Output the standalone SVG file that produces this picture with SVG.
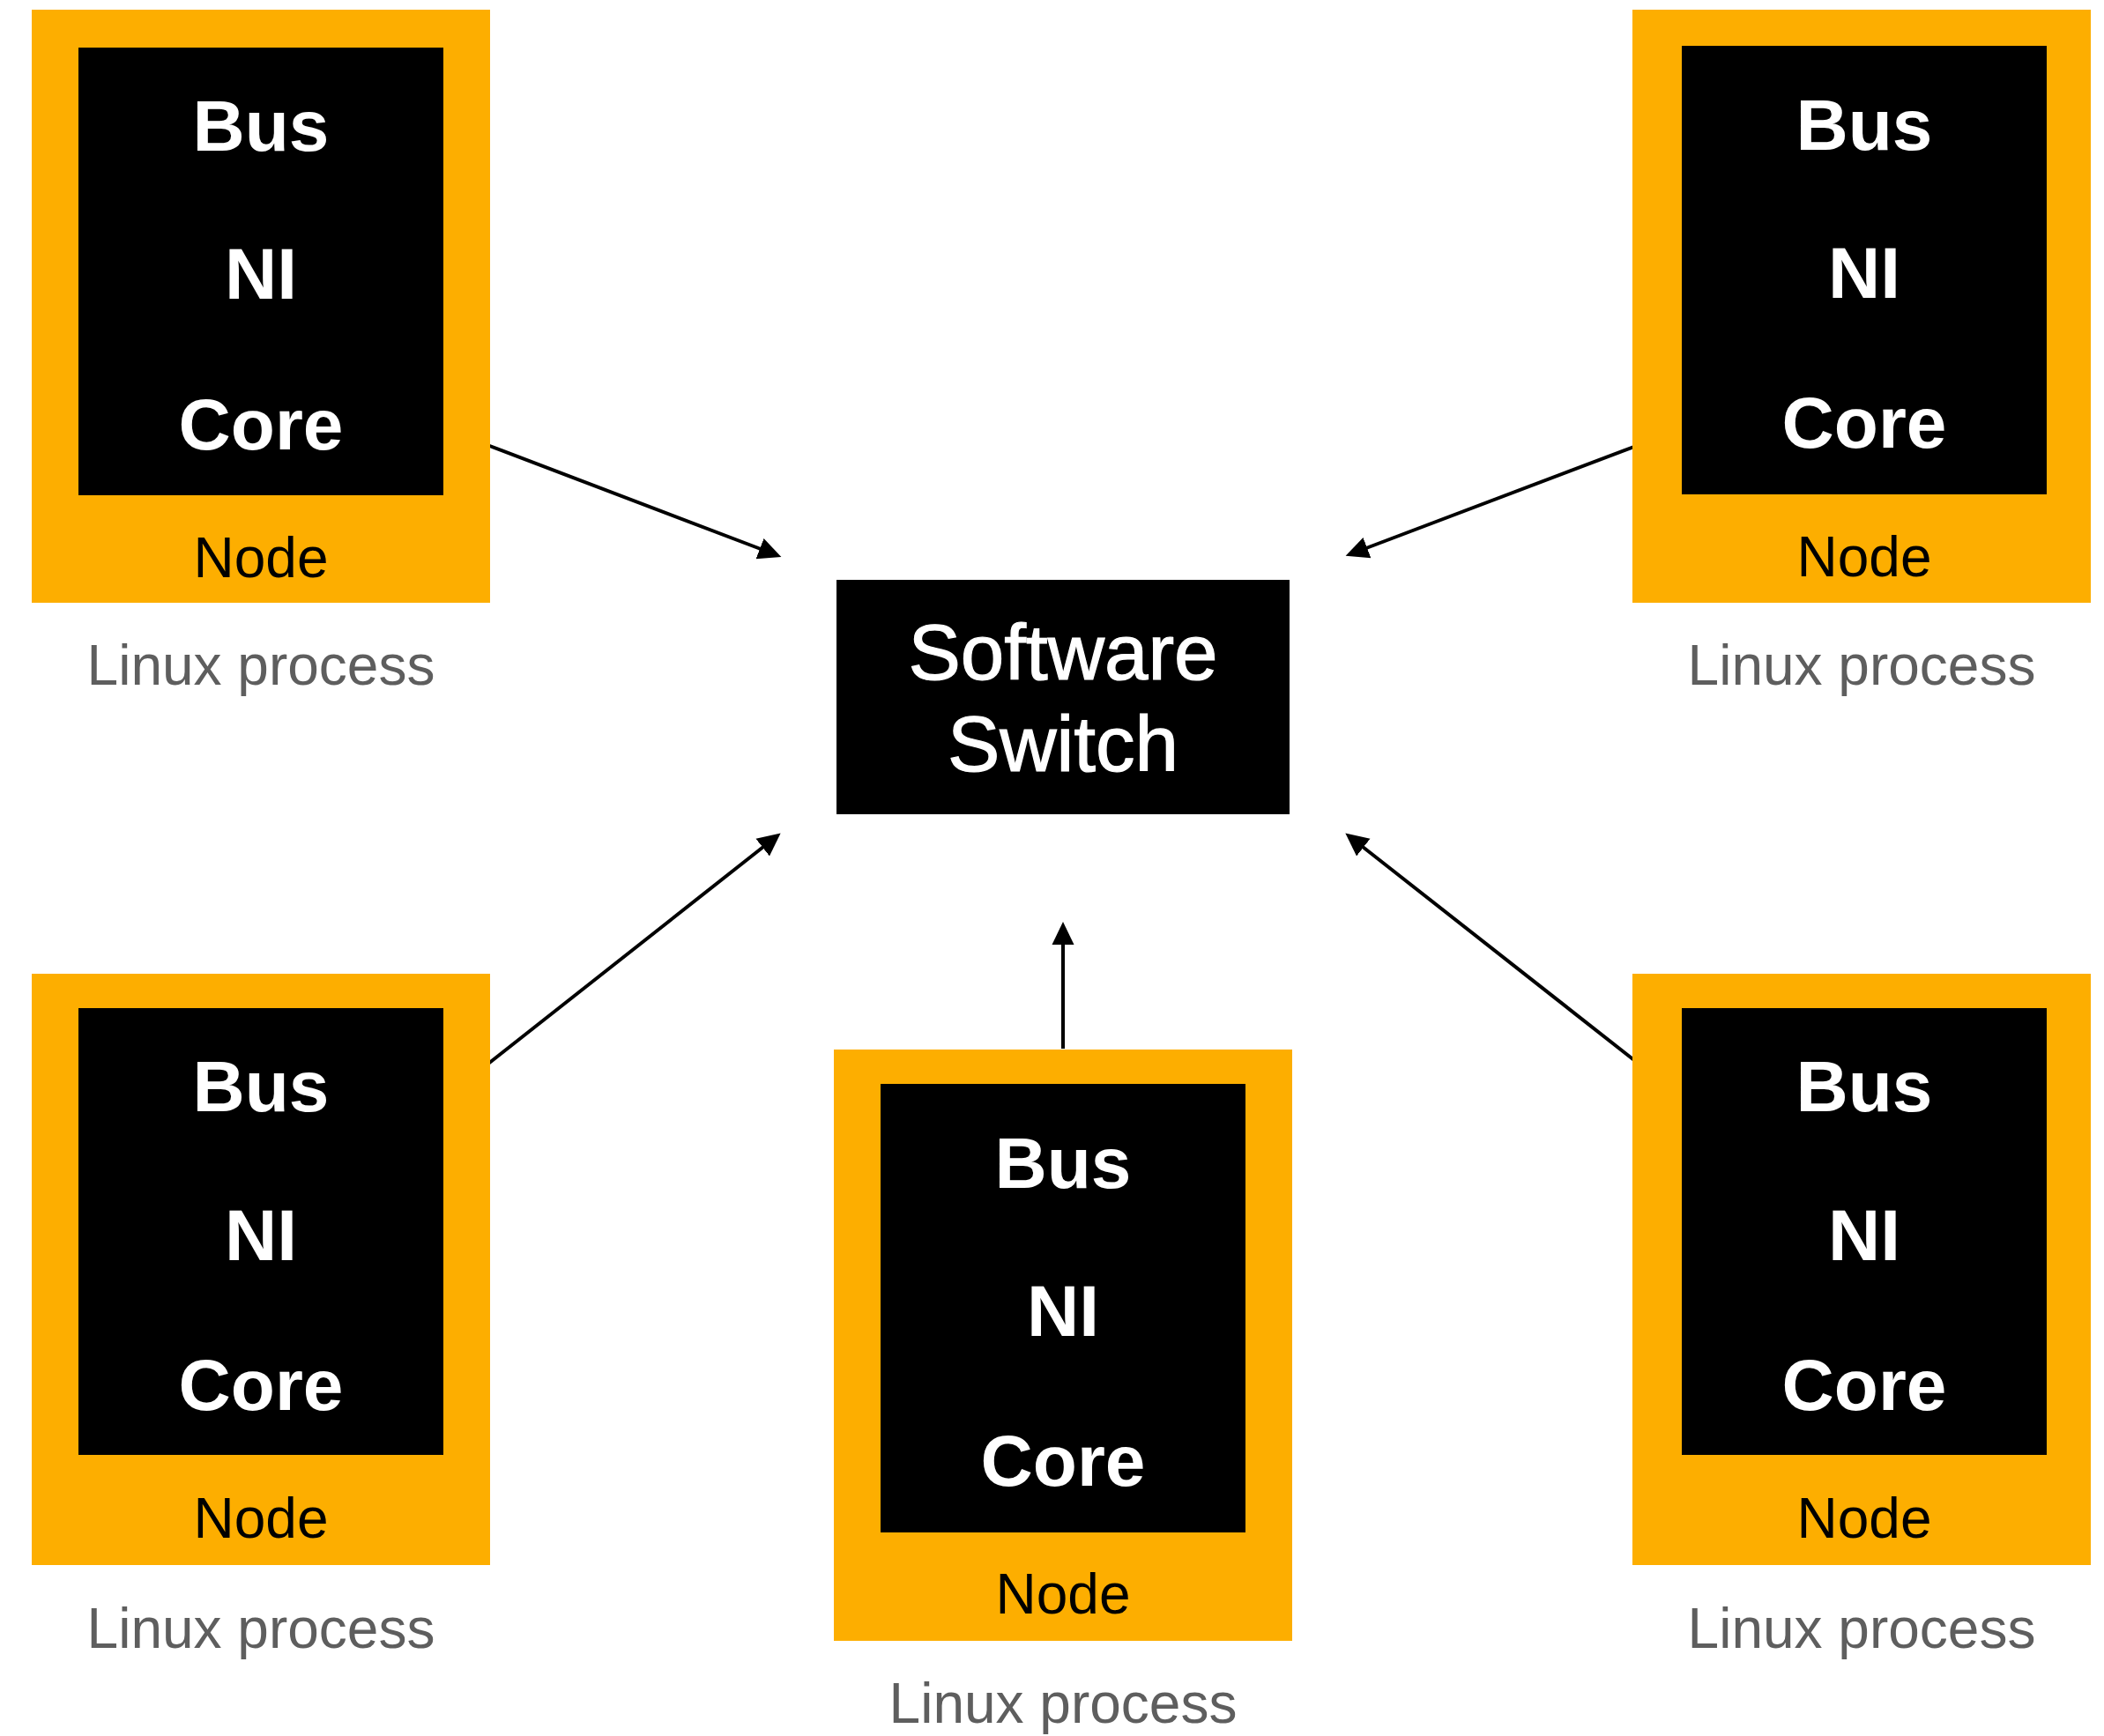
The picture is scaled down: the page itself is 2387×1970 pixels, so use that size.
<svg xmlns="http://www.w3.org/2000/svg" width="2387" height="1970" viewBox="0 0 2387 1970">
  <style>
    .frame { fill: #FDAE00; }
    .core { fill: #000000; }
    .part { font-family: "Liberation Sans", Arial, sans-serif; font-weight: 700; font-size: 82px; fill: #FFFFFF; text-anchor: middle; }
    .tag { font-family: "Liberation Sans", Arial, sans-serif; font-size: 64px; fill: #000000; text-anchor: middle; }
    .proc { font-family: "Liberation Sans", Arial, sans-serif; font-size: 64px; fill: #5E5E5E; text-anchor: middle; }
    .sw { font-family: "Liberation Sans", Arial, sans-serif; font-size: 89px; fill: #FFFFFF; stroke: #FFFFFF; stroke-width: 1.2; text-anchor: middle; }
    .link { stroke: #000000; stroke-width: 4; fill: none; marker-end: url(#head); }
  </style>
  <defs>
    <marker id="head" markerUnits="userSpaceOnUse" markerWidth="28" markerHeight="28" viewBox="0 -14 28 28" refX="1" refY="0" orient="auto">
      <path d="M0,-12.5 L26,0 L0,12.5 Z" fill="#000000"/>
    </marker>
  </defs>
  <rect width="2387" height="1970" fill="#FFFFFF"/>

  <!-- connectors: every node talks to the software switch -->
  <g id="connectors">
    <line class="link" x1="553" y1="505" x2="863" y2="623"/>
    <line class="link" x1="1859" y1="505" x2="1550" y2="622"/>
    <line class="link" x1="554" y1="1207" x2="866" y2="961"/>
    <line class="link" x1="1859" y1="1207" x2="1546" y2="961"/>
    <line class="link" x1="1206" y1="1190" x2="1206" y2="1071"/>
  </g>

  <!-- central switch -->
  <g id="software-switch">
    <rect class="core" x="949" y="658" width="514" height="266"/>
    <text class="sw" x="1206" y="771">Software</text>
    <text class="sw" x="1206" y="875">Switch</text>
  </g>

  <!-- node, top left -->
  <g id="node-top-left">
    <rect class="frame" x="36" y="11" width="520" height="673"/>
    <rect class="core" x="89" y="54" width="414" height="508"/>
    <text class="part" x="296" y="171">Bus</text>
    <text class="part" x="296" y="339">NI</text>
    <text class="part" x="296" y="510">Core</text>
    <text class="tag" x="296" y="655">Node</text>
    <text class="proc" x="296" y="777">Linux process</text>
  </g>

  <!-- node, top right -->
  <g id="node-top-right">
    <rect class="frame" x="1852" y="11" width="520" height="673"/>
    <rect class="core" x="1908" y="52" width="414" height="509"/>
    <text class="part" x="2115" y="170">Bus</text>
    <text class="part" x="2115" y="338">NI</text>
    <text class="part" x="2115" y="508">Core</text>
    <text class="tag" x="2115" y="654">Node</text>
    <text class="proc" x="2112" y="777">Linux process</text>
  </g>

  <!-- node, bottom left -->
  <g id="node-bottom-left">
    <rect class="frame" x="36" y="1105" width="520" height="671"/>
    <rect class="core" x="89" y="1144" width="414" height="507"/>
    <text class="part" x="296" y="1261">Bus</text>
    <text class="part" x="296" y="1430">NI</text>
    <text class="part" x="296" y="1600">Core</text>
    <text class="tag" x="296" y="1745">Node</text>
    <text class="proc" x="296" y="1870">Linux process</text>
  </g>

  <!-- node, bottom centre -->
  <g id="node-bottom-center">
    <rect class="frame" x="946" y="1191" width="520" height="671"/>
    <rect class="core" x="999" y="1230" width="414" height="509"/>
    <text class="part" x="1206" y="1348">Bus</text>
    <text class="part" x="1206" y="1516">NI</text>
    <text class="part" x="1206" y="1686">Core</text>
    <text class="tag" x="1206" y="1831">Node</text>
    <text class="proc" x="1206" y="1955">Linux process</text>
  </g>

  <!-- node, bottom right -->
  <g id="node-bottom-right">
    <rect class="frame" x="1852" y="1105" width="520" height="671"/>
    <rect class="core" x="1908" y="1144" width="414" height="507"/>
    <text class="part" x="2115" y="1261">Bus</text>
    <text class="part" x="2115" y="1430">NI</text>
    <text class="part" x="2115" y="1600">Core</text>
    <text class="tag" x="2115" y="1745">Node</text>
    <text class="proc" x="2112" y="1870">Linux process</text>
  </g>
</svg>
